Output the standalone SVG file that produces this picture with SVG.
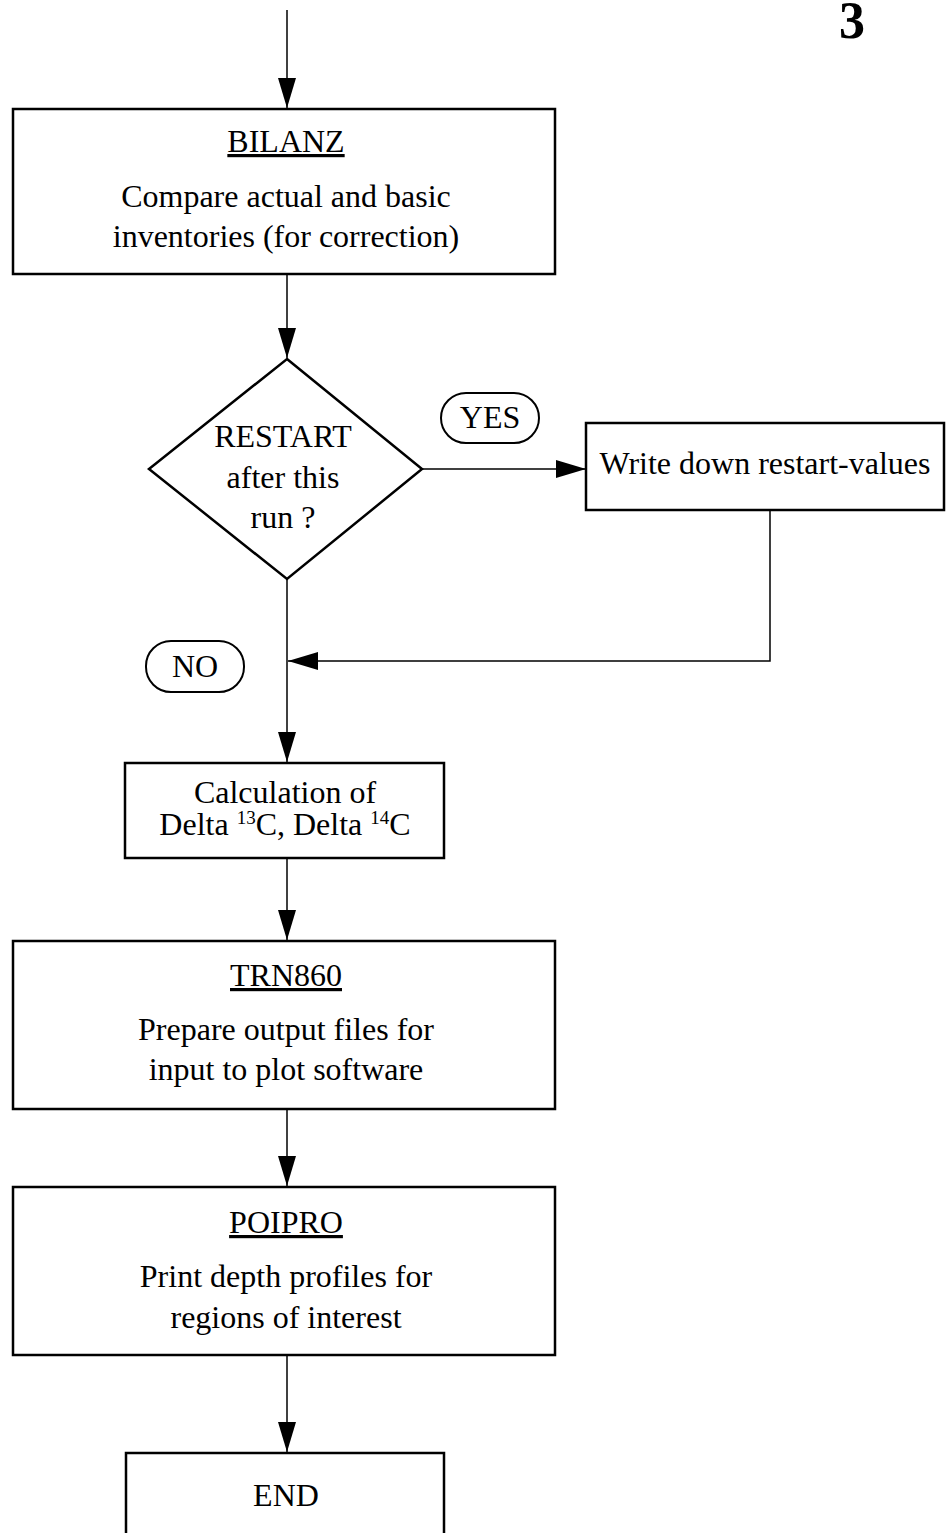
<svg xmlns="http://www.w3.org/2000/svg" width="946" height="1533" viewBox="0 0 946 1533">
<style>
.box{fill:#fff;stroke:#000;stroke-width:2.5}
.pill{fill:#fff;stroke:#000;stroke-width:2}
.t{font-family:"Liberation Serif","Times New Roman",serif;font-size:32px;fill:#000;text-anchor:middle}
.u{text-decoration:underline}
.c{fill:none;stroke:#000;stroke-width:1.5}
</style>
<defs>
<marker id="ah" markerUnits="userSpaceOnUse" markerWidth="30" markerHeight="18" refX="30" refY="9" orient="auto">
<path d="M0,0 L30,9 L0,18 Z" fill="#000"/>
</marker>
</defs>
<rect width="946" height="1533" fill="#fff"/>
<text x="852" y="38" font-family="Liberation Serif, serif" font-size="52" font-weight="bold" text-anchor="middle">3</text>
<g id="connectors">
<line class="c" x1="287" y1="10" x2="287" y2="108" marker-end="url(#ah)"/>
<line class="c" x1="287" y1="275" x2="287" y2="358" marker-end="url(#ah)"/>
<line class="c" x1="422" y1="469" x2="586" y2="469" marker-end="url(#ah)"/>
<polyline class="c" points="770,510 770,661 288,661" marker-end="url(#ah)"/>
<line class="c" x1="287" y1="579" x2="287" y2="762" marker-end="url(#ah)"/>
<line class="c" x1="287" y1="858" x2="287" y2="940" marker-end="url(#ah)"/>
<line class="c" x1="287" y1="1109" x2="287" y2="1186" marker-end="url(#ah)"/>
<line class="c" x1="287" y1="1355" x2="287" y2="1452" marker-end="url(#ah)"/>
</g>
<g id="bilanz">
<rect class="box" x="13" y="109" width="542" height="165"/>
<text class="t u" x="286" y="152">BILANZ</text>
<text class="t" x="286" y="207">Compare actual and basic</text>
<text class="t" x="286" y="247">inventories (for correction)</text>
</g>
<g id="restart">
<polygon class="box" points="287,359 422,469 287,579 149,469"/>
<text class="t" x="283" y="447">RESTART</text>
<text class="t" x="283" y="488">after this</text>
<text class="t" x="283" y="528">run ?</text>
</g>
<g id="yes">
<rect class="pill" x="441" y="393" width="98" height="50" rx="25"/>
<text class="t" x="490" y="428">YES</text>
</g>
<g id="write">
<rect class="box" x="586" y="423" width="358" height="87"/>
<text class="t" x="765" y="474">Write down restart-values</text>
</g>
<g id="no">
<rect class="pill" x="146" y="641" width="98" height="51" rx="25"/>
<text class="t" x="195" y="677">NO</text>
</g>
<g id="calc">
<rect class="box" x="125" y="763" width="319" height="95"/>
<text class="t" x="285" y="803">Calculation of</text>
<text class="t" x="285" y="835">Delta <tspan font-size="19" dy="-11">13</tspan><tspan dy="11">C, Delta </tspan><tspan font-size="19" dy="-11">14</tspan><tspan dy="11">C</tspan></text>
</g>
<g id="trn860">
<rect class="box" x="13" y="941" width="542" height="168"/>
<text class="t u" x="286" y="986">TRN860</text>
<text class="t" x="286" y="1040">Prepare output files for</text>
<text class="t" x="286" y="1080">input to plot software</text>
</g>
<g id="poipro">
<rect class="box" x="13" y="1187" width="542" height="168"/>
<text class="t u" x="286" y="1233">POIPRO</text>
<text class="t" x="286" y="1287">Print depth profiles for</text>
<text class="t" x="286" y="1328">regions of interest</text>
</g>
<g id="end">
<rect class="box" x="126" y="1453" width="318" height="100"/>
<text class="t" x="286" y="1506">END</text>
</g>
</svg>
